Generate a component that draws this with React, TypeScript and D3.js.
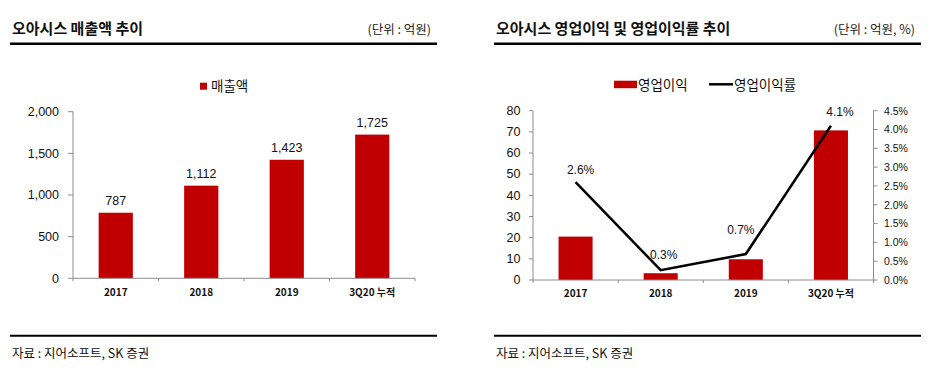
import React from "react";
import * as d3 from "d3";

const categories = ["2017", "2018", "2019", "3Q20 누적"];
const sales = [787, 1112, 1423, 1725];
const salesTicks = [0, 500, 1000, 1500, 2000];
const opProfit = [20.5, 3.2, 9.8, 70.7];
const opMargin = [2.6, 0.26, 0.69, 4.1];
const opMarginLabels = ["2.6%", "0.3%", "0.7%", "4.1%"];
const leftTicks = [0, 10, 20, 30, 40, 50, 60, 70, 80];
const rightTicks = [0, 0.5, 1, 1.5, 2, 2.5, 3, 3.5, 4, 4.5];

const RED = "#C00000";
const AXIS = "#8c8c8c";
const KR = "'Malgun Gothic','Noto Sans CJK KR','Noto Sans',sans-serif";
const NUM = "'Liberation Sans',Arial,sans-serif";

function Header({ x0, x1, title, unit }: { x0: number; x1: number; title: string; unit: string }) {
  return (
    <g>
      <text x={x0 + 2} y={34} fontFamily={KR} fontSize={15} fontWeight="bold" fill="#111">{title}</text>
      <text x={x1 - 6} y={34} fontFamily={KR} fontSize={12.5} fill="#222" textAnchor="end">{unit}</text>
      <line x1={x0} x2={x1} y1={43.7} y2={43.7} stroke="#000" strokeWidth={2.5} />
      <line x1={x0} x2={x1} y1={335.7} y2={335.7} stroke="#000" strokeWidth={2} />
      <text x={x0 + 2} y={358} fontFamily={KR} fontSize={12.5} fill="#111">자료 : 지어소프트, SK 증권</text>
    </g>
  );
}

function LeftChart() {
  const x = d3.scaleBand<string>().domain(categories).range([73, 415]).padding(0);
  const y = d3.scaleLinear().domain([0, 2000]).range([278.3, 111.7]);
  const bw = x.bandwidth() * 0.4;
  const fmt = d3.format(",");
  return (
    <g>
      <Header x0={10} x1={437} title="오아시스 매출액 추이" unit="(단위 : 억원)" />
      <rect x={200} y={82.7} width={7} height={7} fill={RED} />
      <text x={211} y={90.5} fontFamily={KR} fontSize={13.5} fill="#111">매출액</text>
      <line x1={73} x2={73} y1={y(2000)} y2={y(0)} stroke={AXIS} />
      {salesTicks.map((t) => (
        <g key={t}>
          <line x1={68} x2={73} y1={y(t)} y2={y(t)} stroke={AXIS} />
          <text x={59} y={y(t) + 4.3} textAnchor="end" fontFamily={NUM} fontSize={12.5} fill="#111">{fmt(t)}</text>
        </g>
      ))}
      {categories.map((c, i) => {
        const cx = (x(c) as number) + x.bandwidth() / 2;
        return (
          <g key={c}>
            <rect x={cx - bw / 2} y={y(sales[i])} width={bw} height={y(0) - y(sales[i])} fill={RED} />
            <text x={cx} y={y(sales[i]) - 8} textAnchor="middle" fontFamily={NUM} fontSize={12.5} fill="#111">{fmt(sales[i])}</text>
            <text x={cx} y={296} textAnchor="middle" fontFamily={KR} fontSize={10} fontWeight="bold" fill="#111">{c}</text>
          </g>
        );
      })}
      <line x1={73} x2={415} y1={y(0)} y2={y(0)} stroke={AXIS} />
      {[...categories.map((c) => x(c) as number), 415].map((v, i) => (
        <line key={i} x1={v} x2={v} y1={y(0)} y2={y(0) + 3} stroke={AXIS} />
      ))}
    </g>
  );
}

function RightChart() {
  const x = d3.scaleBand<string>().domain(categories).range([533, 873.5]).padding(0);
  const yL = d3.scaleLinear().domain([0, 80]).range([280, 110.7]);
  const yR = d3.scaleLinear().domain([0, 4.5]).range([280, 110.7]);
  const bw = x.bandwidth() * 0.4;
  const cxs = categories.map((c) => (x(c) as number) + x.bandwidth() / 2);
  const line = d3
    .line<number>()
    .x((_, i) => cxs[i])
    .y((d) => yR(d));
  const pf = d3.format(".1f");
  return (
    <g>
      <Header x0={494} x1={921} title="오아시스 영업이익 및 영업이익률 추이" unit="(단위 : 억원, %)" />
      <rect x={614} y={80.7} width={23} height={7.5} fill={RED} />
      <text x={638} y={89.5} fontFamily={KR} fontSize={13.5} fill="#111">영업이익</text>
      <line x1={709} x2={733} y1={84.3} y2={84.3} stroke="#000" strokeWidth={2.5} />
      <text x={734} y={89.5} fontFamily={KR} fontSize={13.5} fill="#111">영업이익률</text>
      <line x1={533} x2={533} y1={yL(80)} y2={yL(0)} stroke={AXIS} />
      {leftTicks.map((t) => (
        <g key={t}>
          <line x1={529} x2={533} y1={yL(t)} y2={yL(t)} stroke={AXIS} />
          <text x={520.5} y={yL(t) + 4.3} textAnchor="end" fontFamily={NUM} fontSize={12.5} fill="#111">{t}</text>
        </g>
      ))}
      <line x1={873.5} x2={873.5} y1={yR(4.5)} y2={yR(0)} stroke={AXIS} />
      {rightTicks.map((t) => (
        <g key={t}>
          <line x1={873.5} x2={877.5} y1={yR(t)} y2={yR(t)} stroke={AXIS} />
          <text x={884} y={yR(t) + 3.8} textAnchor="start" fontFamily={NUM} fontSize={10.5} fill="#111">{pf(t)}%</text>
        </g>
      ))}
      {categories.map((c, i) => (
        <g key={c}>
          <rect x={cxs[i] - bw / 2} y={yL(opProfit[i])} width={bw} height={yL(0) - yL(opProfit[i])} fill={RED} />
          <text x={cxs[i]} y={297} textAnchor="middle" fontFamily={KR} fontSize={10} fontWeight="bold" fill="#111">{c}</text>
        </g>
      ))}
      <line x1={533} x2={873.5} y1={yL(0)} y2={yL(0)} stroke={AXIS} />
      {[...categories.map((c) => x(c) as number), 873.5].map((v, i) => (
        <line key={i} x1={v} x2={v} y1={yL(0)} y2={yL(0) + 3} stroke={AXIS} />
      ))}
      <path d={line(opMargin) || ""} fill="none" stroke="#000" strokeWidth={2.5} />
      {opMargin.map((v, i) => (
        <text key={i} x={cxs[i] + [5, 3, -5, 9][i]} y={yR(v) - [8.5, 11.5, 20, 10][i]} textAnchor="middle" fontFamily={NUM} fontSize={12} fill="#111">{opMarginLabels[i]}</text>
      ))}
    </g>
  );
}

export default function App() {
  return (
    <svg width={949} height={375} style={{ position: "absolute", left: 0, top: 0, background: "#fff" }}>
      <rect width={949} height={375} fill="#fff" />
      <LeftChart />
      <RightChart />
    </svg>
  );
}
